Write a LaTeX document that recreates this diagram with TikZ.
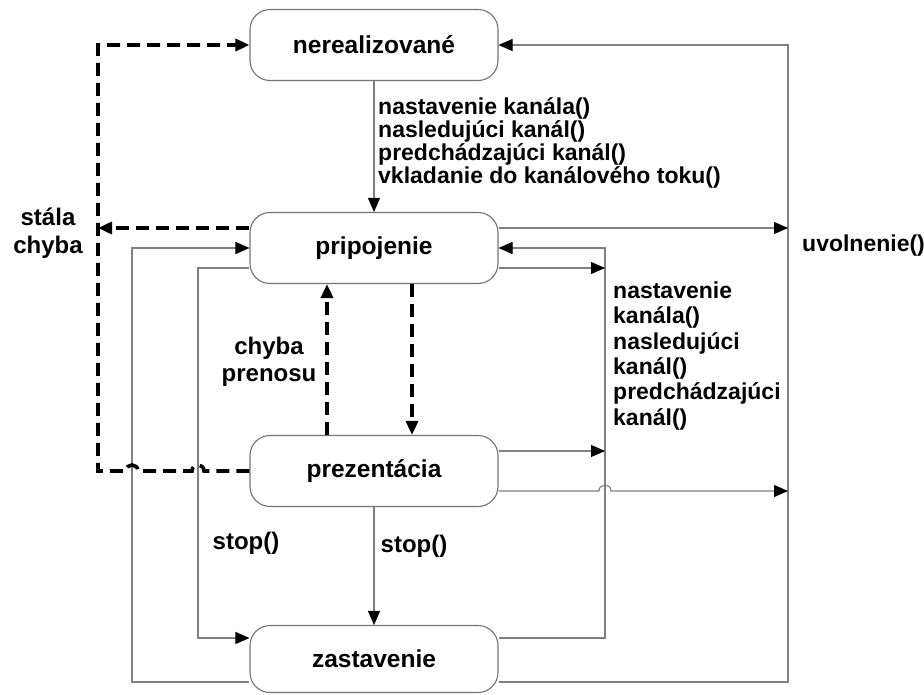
\documentclass[tikz,border=0pt]{standalone}
\usepackage{fontspec}
\setmainfont{Liberation Sans}
\usetikzlibrary{arrows.meta,calc}
\setlength{\lineskiplimit}{-30pt}
\begin{document}
\begin{tikzpicture}[x=1pt,y=-1pt,
  state/.style={draw=black!55,line width=1.1pt,rounded corners=20pt,minimum width=248pt,minimum height=71pt,inner sep=0pt,font=\fontsize{24.5}{26}\selectfont\bfseries},
  thin/.style={draw=black!50,line width=1.1pt},
  dsh/.style={draw=black,line width=3.6pt,dash pattern=on 13pt off 7pt},
  tipa/.style={-{Triangle[length=14pt,width=12pt,color=black]}},
  lbl/.style={inner sep=0pt,align=left,font=\fontsize{23}{23.2}\selectfont\bfseries},
  lblc/.style={inner sep=0pt,align=center,font=\fontsize{24}{27}\selectfont\bfseries}]
\useasboundingbox (0,0) rectangle (924,694);
% states
\node[state] (ner) at (374,45) {nerealizované};
\node[state] (prip) at (374,248) {pripojenie};
\node[state] (prez) at (374,471) {prezentácia};
\node[state,minimum height=67pt] (zast) at (374,659) {zastavenie};
% bus lines
\coordinate (L1) at (98,0);
\coordinate (L2) at (132,0);
\coordinate (L3) at (198,0);
\coordinate (R1) at (605,0);
\coordinate (R2) at (788,0);
% ports
\coordinate (pw1) at ($(prip.west)+(0,-20)$);
\coordinate (pw3) at ($(prip.west)+(0,20)$);
\coordinate (pe1) at ($(prip.east)+(0,-20)$);
\coordinate (pe3) at ($(prip.east)+(0,20)$);
\coordinate (ze1) at ($(prez.east)+(0,-20)$);
\coordinate (ze2) at ($(prez.east)+(0,20)$);
\coordinate (sw1) at ($(zast.west)+(0,-21)$);
\coordinate (sw2) at ($(zast.west)+(0,23)$);
\coordinate (se1) at ($(zast.east)+(0,-21)$);
\coordinate (se2) at ($(zast.east)+(0,23)$);
% vertical main flow
\draw[thin,tipa] (ner.south) -- (prip.north);
\draw[thin,tipa] (prez.south) -- (zast.north);
\draw[dsh,tipa] ($(prez.north)+(-47,0)$) -- ($(prip.south)+(-47,0)$);
\draw[dsh,tipa] ($(prip.south)+(38,0)$) -- ($(prez.north)+(38,0)$);
% left thin loops
\draw[thin,tipa] (sw2) -- (sw2 -| L2) -- (prip.west -| L2) -- (prip.west);
\draw[thin,tipa] (pw3) -- (pw3 -| L3) -- (sw1 -| L3) -- (sw1);
% right thin loops
\draw[thin,tipa] (se2) -- (se2 -| R2) -- (ner.east -| R2) -- (ner.east);
\draw[thin,tipa] (pe1) -- (pe1 -| R2);
\draw[thin,tipa] (se1) -- (se1 -| R1) -- (prip.east -| R1) -- (prip.east);
\draw[thin,tipa] (pe3) -- (pe3 -| R1);
\draw[thin,tipa] (ze1) -- (ze1 -| R1);
\draw[thin,tipa] (ze2) -- ($(ze2 -| R1)+(-6,0)$) .. controls ($(ze2 -| R1)+(-6,-8)$) and ($(ze2 -| R1)+(6,-8)$) .. ($(ze2 -| R1)+(6,0)$) -- (ze2 -| R2);
% dashed error lines
\draw[dsh,tipa] (prez.west) -- ($(prez.west -| L3)+(6,0)$) .. controls ($(prez.west -| L3)+(6,-8)$) and ($(prez.west -| L3)+(-6,-8)$) .. ($(prez.west -| L3)+(-6,0)$)
  -- ($(prez.west -| L2)+(6,0)$) .. controls ($(prez.west -| L2)+(6,-8)$) and ($(prez.west -| L2)+(-6,-8)$) .. ($(prez.west -| L2)+(-6,0)$)
  -- (prez.west -| L1) -- (ner.west -| L1) -- (ner.west);
\draw[dsh,tipa] (pw1) -- (pw1 -| L1);
% labels
\node[lbl,anchor=north west] (t1) at (378,97) {nastavenie kanála()\\nasledujúci kanál()\\predchádzajúci kanál()\\vkladanie do kanálového toku()};
\node[lbl,anchor=north west,font=\fontsize{23}{25.4}\selectfont\bfseries] (t2) at (613,281.5) {nastavenie\\kanála()\\nasledujúci\\kanál()\\predchádzajúci\\kanál()};
\node[lbl,anchor=west] (t3) at (802,246) {uvolnenie()};
\node[lblc,font=\fontsize{24}{28.5}\selectfont\bfseries] (t4) at (48,233) {stála\\chyba};
\node[lblc] (t5) at (269,362) {chyba\\prenosu};
\node[lblc] (t6) at (246,543) {stop()};
\node[lblc] (t7) at (414,546) {stop()};
\end{tikzpicture}
\end{document}
